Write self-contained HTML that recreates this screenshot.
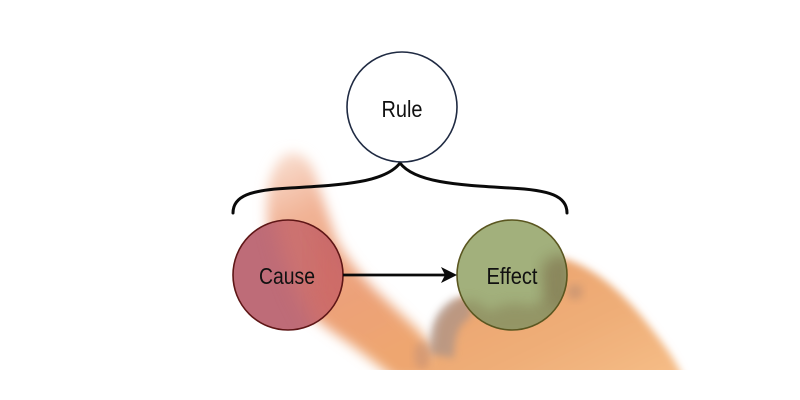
<!DOCTYPE html>
<html><head><meta charset="utf-8"><style>
html,body{margin:0;padding:0;background:#fff;width:800px;height:400px;overflow:hidden}
svg{display:block}
text{font-family:"Liberation Sans",Arial,sans-serif;fill:#111}
</style></head><body>
<svg width="800" height="400" viewBox="0 0 800 400" xmlns="http://www.w3.org/2000/svg">
<defs>
<filter id="b7" x="-30%" y="-30%" width="160%" height="160%"><feGaussianBlur stdDeviation="6"/></filter>
<filter id="b4" x="-30%" y="-30%" width="160%" height="160%"><feGaussianBlur stdDeviation="4"/></filter>
<filter id="b10" x="-30%" y="-30%" width="160%" height="160%"><feGaussianBlur stdDeviation="10"/></filter>
<clipPath id="cut"><rect x="0" y="0" width="800" height="370"/></clipPath>
<clipPath id="effc"><circle cx="512" cy="275" r="55"/></clipPath>
<clipPath id="causec"><circle cx="288" cy="275" r="55"/></clipPath>
<linearGradient id="fing" x1="0" y1="0" x2="0.4" y2="1">
<stop offset="0" stop-color="#fae4d8"/>
<stop offset="0.3" stop-color="#f1b396"/>
<stop offset="0.7" stop-color="#eca179"/>
<stop offset="1" stop-color="#eea670"/>
</linearGradient>
<linearGradient id="handg" x1="0" y1="0" x2="1" y2="1">
<stop offset="0" stop-color="#e9a06c"/>
<stop offset="0.6" stop-color="#efae78"/>
<stop offset="1" stop-color="#f6be88"/>
</linearGradient>
</defs>

<!-- hand -->
<g clip-path="url(#cut)">
<path filter="url(#b7)" fill="url(#fing)" d="M278,162 C286,148 306,150 314,172 L336,238 C346,258 362,278 386,300 L418,330 L436,352 L446,380 L396,380 C375,362 352,345 330,330 L304,310 C285,288 268,256 267,216 C266,190 270,172 278,162 Z"/>
<path filter="url(#b4)" fill="url(#handg)" d="M436,335 C438,308 468,290 505,280 L562,258 C592,266 620,290 643,318 C663,343 676,360 684,380 L426,380 Z"/>
<!-- knuckle shadows -->
<path filter="url(#b4)" fill="#a89288" opacity="0.7" d="M430,354 C427,330 436,306 456,298 L474,298 L470,318 C458,324 454,338 454,358 Z"/>
<ellipse filter="url(#b4)" cx="422" cy="355" rx="8" ry="14" fill="#c09078" opacity="0.5"/>
<ellipse filter="url(#b4)" cx="535" cy="312" rx="10" ry="6" fill="#a88270" opacity="0.45"/>
<ellipse filter="url(#b4)" cx="575" cy="292" rx="8" ry="8" fill="#a88270" opacity="0.4"/>
</g>

<!-- brace -->
<path d="M233,213 C233,196 250,190 290,188 C340,185 385,183 400,163 C415,183 460,185 510,188 C550,190 567,196 567,213" fill="none" stroke="#0a0a0a" stroke-width="3" stroke-linecap="round" stroke-linejoin="round"/>

<!-- Rule -->
<circle cx="402" cy="107" r="55" fill="#fff" stroke="#1f2a42" stroke-width="1.6"/>
<text x="402" y="117" font-size="23" text-anchor="middle" textLength="41" lengthAdjust="spacingAndGlyphs">Rule</text>

<!-- Cause -->
<circle cx="288" cy="275" r="55" fill="#be6c78"/>
<g clip-path="url(#causec)">
<path filter="url(#b10)" fill="#d9786a" opacity="0.55" d="M272,205 L312,205 L335,250 L360,290 L370,340 L320,340 L295,290 L278,240 Z"/>
<path filter="url(#b10)" fill="#d0665e" opacity="0.45" d="M315,215 L350,230 L360,300 L335,335 L315,300 Z"/>
</g>
<circle cx="288" cy="275" r="55" fill="none" stroke="#5e1616" stroke-width="1.6"/>
<text x="287" y="284" font-size="23" text-anchor="middle" textLength="56" lengthAdjust="spacingAndGlyphs">Cause</text>

<!-- Effect -->
<circle cx="512" cy="275" r="55" fill="#a2b07c"/>
<g clip-path="url(#effc)">
<path filter="url(#b7)" fill="#8a8458" opacity="0.6" d="M455,305 C470,296 480,302 490,312 C500,302 520,302 530,306 L545,300 L545,272 C548,262 560,256 570,258 L575,340 L450,340 Z"/>
<path filter="url(#b7)" fill="#7c6e4c" opacity="0.35" d="M540,268 C545,252 560,252 570,258 L570,310 L545,305 Z"/>
</g>
<circle cx="512" cy="275" r="55" fill="none" stroke="#5a5620" stroke-width="1.6"/>
<text x="512" y="284" font-size="23" text-anchor="middle" textLength="51" lengthAdjust="spacingAndGlyphs">Effect</text>

<!-- arrow -->
<line x1="343" y1="275" x2="445" y2="275" stroke="#0a0a0a" stroke-width="2.8"/>
<path d="M457,275 L441,267 L445,275 L441,283 Z" fill="#0a0a0a"/>
</svg>
</body></html>
